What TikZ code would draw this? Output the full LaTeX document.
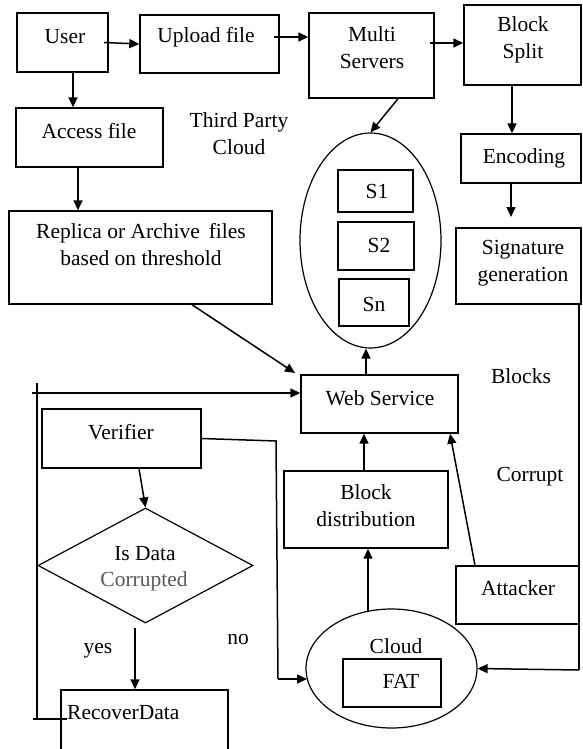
\documentclass[tikz,border=0pt]{standalone}
\usepackage{fontspec}
\setmainfont{Liberation Serif}
\usetikzlibrary{shapes.geometric,arrows.meta}
\begin{document}
\begin{tikzpicture}[x=1pt,y=-1pt,
  box/.style={draw,line width=1.4pt,inner sep=0pt},
  txt/.style={inner sep=0pt,align=center,font=\fontsize{21.5}{27}\selectfont},
  ln/.style={line width=1.5pt},
  arr/.style={line width=1.5pt,-{Triangle[length=10pt,width=9pt]}}]
\useasboundingbox (0,0) rectangle (582,749);
% boxes: centre and size
\node[box,minimum width=91pt,minimum height=59pt] (user) at (62.5,42.5) {};
\node[box,minimum width=139pt,minimum height=58pt] (upload) at (209.5,44) {};
\node[box,minimum width=125pt,minimum height=85pt] (multi) at (371.5,55.5) {};
\node[box,minimum width=117pt,minimum height=80pt] (split) at (522.5,45) {};
\node[box,minimum width=147pt,minimum height=59pt] (access) at (89.5,137.5) {};
\node[box,minimum width=120pt,minimum height=49pt] (enc) at (521,158.5) {};
\node[box,minimum width=125pt,minimum height=76pt] (sig) at (518.5,266) {};
\node[box,minimum width=263pt,minimum height=93pt] (rep) at (140.5,257.5) {};
\node[draw,line width=1.2pt,ellipse,minimum width=141pt,minimum height=215pt,inner sep=0pt] (srv) at (370.5,240.5) {};
\node[box,minimum width=75pt,minimum height=42pt] (s1) at (375.5,191) {};
\node[box,minimum width=76pt,minimum height=48pt] (s2) at (376,246) {};
\node[box,minimum width=70pt,minimum height=47pt] (sn) at (374,302.5) {};
\node[box,minimum width=157pt,minimum height=58pt] (web) at (379.5,404) {};
\node[box,minimum width=164pt,minimum height=77pt] (bd) at (366,509.5) {};
\node[box,minimum width=123pt,minimum height=58pt] (att) at (517.5,595) {};
\node[box,minimum width=159pt,minimum height=59pt] (ver) at (121.5,438.5) {};
\node[draw,line width=1.2pt,diamond,aspect=1.87,minimum width=215pt,minimum height=115pt,inner sep=0pt] (dia) at (145.5,565.5) {};
\node[box,minimum width=167pt,minimum height=60pt] (rec) at (144.5,720) {};
\node[draw,line width=1.2pt,ellipse,minimum width=171pt,minimum height=119pt,inner sep=0pt] (cloud) at (391.5,668.5) {};
\node[box,minimum width=98pt,minimum height=48pt] (fat) at (392,683) {};
% texts
\node[txt] (tuser) at (65,37) {User};
\node[txt] (tupload) at (206,37) {Upload file};
\node[txt] (tmulti) at (372,48) {Multi\\Servers};
\node[txt] (tsplit) at (523,40) {Block\\Split};
\node[txt] (taccess) at (89,131) {Access file};
\node[txt] (tthird) at (239,134) {Third Party\\Cloud};
\node[txt] (tenc) at (524,158) {Encoding};
\node[txt] (tsig) at (523,263) {Signature\\generation};
\node[txt] (trep) at (141,245) {Replica or Archive\, files\\based on threshold};
\node[txt] (ts1) at (377,191) {S1};
\node[txt] (ts2) at (379,245) {S2};
\node[txt] (tsn) at (374,304) {Sn};
\node[txt] (tweb) at (380,398) {Web Service};
\node[txt] (tblocks) at (521,376) {Blocks};
\node[txt] (tbd) at (366,506) {Block\\distribution};
\node[txt] (tcorrupt) at (530,477) {Corrupt};
\node[txt] (tatt) at (518,588) {Attacker};
\node[txt] (tver) at (121,432) {Verifier};
\node[txt] (tisdata) at (145,554) {Is Data};
\node[txt,text=black!65] (tcorr) at (144,581) {Corrupted};
\node[txt] (tyes) at (98,651) {yes};
\node[txt] (tno) at (238,640) {no};
\node[txt,anchor=west] (trec) at (67,713) {RecoverData};
\node[txt] (tcloud) at (396,646) {Cloud};
\node[txt] (tfat) at (401,681) {FAT};
% named coordinates for free ends / bends
\coordinate (vb1) at (276,441);
\coordinate (vb2) at (278,679);
\coordinate (rb1) at (579,670);
\coordinate (lb0) at (67,719);
\coordinate (lb1) at (33,719);
\coordinate (lb2) at (37,719);
\coordinate (lb3) at (37,383);
\coordinate (la0) at (32,393);
\coordinate (ctop) at (368,612);
% connectors
\draw[arr] (104,0 |- user.east) -- (upload.west);
\draw[arr] (274,37) -- (multi.west |- 0,37);
\draw[arr] (430,43) -- (split.west |- 0,43);
\draw[arr] (73,0 |- user.south) -- (73,0 |- access.north);
\draw[arr] (78,168) -- (78,0 |- rep.north);
\draw[arr] (512,0 |- split.south) -- (512,0 |- enc.north);
\draw[arr] (511,0 |- enc.south) -- (511,217);
\draw[arr] (398,0 |- multi.south) -- (srv.north);
\draw[arr] (192,0 |- rep.south) -- (295,373);
\draw[arr] (366,0 |- web.north) -- (366,0 |- srv.south);
\draw[arr] (364,0 |- bd.north) -- (364,0 |- web.south);
\draw[arr] (ctop) -- (ctop |- bd.south);
\draw[arr] (475,0 |- att.north) -- (450,0 |- web.south);
\draw[arr] (139,0 |- ver.south) -- (dia.north);
\draw[arr] (135,628) -- (135,0 |- rec.north);
\draw[ln] (ver.east) -- (vb1) -- (vb2);
\draw[arr] (vb2) -- (307,679);
\draw[ln] (579,0 |- sig.south) -- (rb1);
\draw[arr] (rb1) -- (cloud.east);
\draw[ln] (lb0) -- (lb1);
\draw[ln] (lb2) -- (lb3);
\draw[arr] (la0) -- (web.west |- 0,393);
\end{tikzpicture}
\end{document}
